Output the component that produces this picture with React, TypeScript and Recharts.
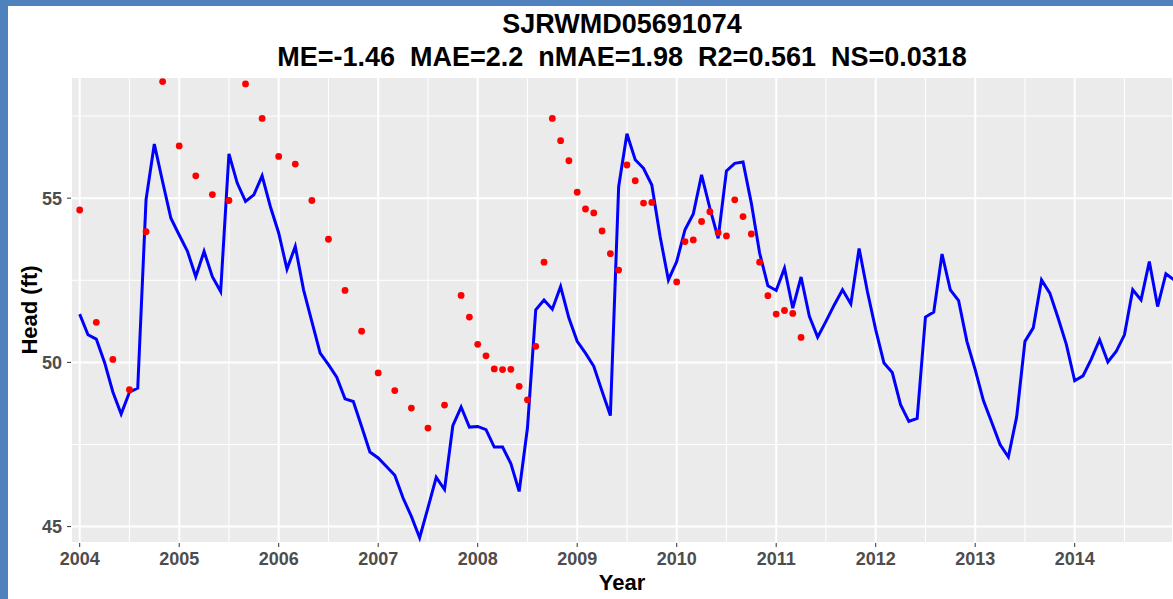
import { ComposedChart, Line, XAxis, YAxis, CartesianGrid, ReferenceLine } from 'recharts'

// simulated head, monthly from Jan 2004
const startYear = 2004
const simulated = [
  51.47, 50.84, 50.71, 50.0, 49.1, 48.43, 49.09, 49.22, 54.95, 56.65, 55.5, 54.39,
  53.88, 53.38, 52.61, 53.38, 52.61, 52.16, 56.35, 55.46, 54.9, 55.1, 55.68, 54.74,
  53.94, 52.84, 53.53, 52.21, 51.24, 50.28, 49.93, 49.55, 48.89, 48.81, 48.05, 47.27,
  47.09, 46.83, 46.56, 45.87, 45.31, 44.66, 45.57, 46.5, 46.13, 48.07, 48.64, 48.03,
  48.05, 47.95, 47.42, 47.42, 46.92, 46.07, 48.0, 51.6, 51.9, 51.62, 52.31, 51.35,
  50.64, 50.28, 49.88, 49.12, 48.38, 55.35, 56.96, 56.17, 55.91, 55.4, 53.83, 52.51,
  53.07, 54.04, 54.52, 55.71, 54.7, 53.78, 55.83, 56.06, 56.1, 54.85, 53.33, 52.33,
  52.19, 52.87, 51.65, 52.6, 51.4, 50.77, 51.25, 51.75, 52.21, 51.78, 53.47, 52.16,
  51.0, 49.98, 49.69, 48.71, 48.2, 48.29, 51.38, 51.53, 53.3, 52.21, 51.88, 50.64,
  49.78, 48.83, 48.17, 47.5, 47.12, 48.34, 50.64, 51.05, 52.51, 52.11, 51.35, 50.54,
  49.44, 49.59, 50.1, 50.69, 50.01, 50.33, 50.84, 52.21, 51.9, 53.07, 51.7, 52.7,
  52.51,
]

// observed head: month index (from Jan 2004) and value
const observedMonth = [
  0, 2, 4, 6, 8, 10, 12, 14, 16, 18, 20, 22, 24, 26, 28, 30, 32, 34, 36, 38, 40, 42, 44,
  46, 47, 48, 49, 50, 51, 52, 53, 54, 55, 56, 57, 58, 59, 60, 61, 62, 63, 64, 65, 66, 67,
  68, 69, 72, 73, 74, 75, 76, 77, 78, 79, 80, 81, 82, 83, 84, 85, 86, 87,
]
const observed = [
  54.64, 51.22, 50.09, 49.17, 53.98, 58.55, 56.59, 55.68, 55.11, 54.93, 58.48, 57.43, 56.27,
  56.04, 54.93, 53.75, 52.19, 50.95, 49.68, 49.14, 48.61, 48.0, 48.7,
  52.04, 51.38, 50.55, 50.2, 49.8, 49.78, 49.79, 49.27, 48.86, 50.49, 53.05, 57.43, 56.75,
  56.14, 55.18, 54.67, 54.55, 54.0, 53.31, 52.81, 56.01, 55.53,
  54.85, 54.87, 52.45, 53.68, 53.73, 54.29, 54.59, 53.95, 53.85, 54.95, 54.44, 53.91, 53.05,
  52.03, 51.47, 51.58, 51.49, 50.76,
]

const yearTicks = [2004, 2005, 2006, 2007, 2008, 2009, 2010, 2011, 2012, 2013, 2014]
const headTicks = [45, 50, 55]
const minorYears = yearTicks.map((y) => y + 0.5)
const minorHeads = [47.5, 52.5, 57.5]

const rows = simulated.map((sim, i) => {
  const k = observedMonth.indexOf(i)
  return { t: startYear + i / 12, sim, obs: k >= 0 ? observed[k] : null }
})

const font = "'Liberation Sans', Arial, sans-serif"
const tickStyle = { fill: '#4D4D4D', fontSize: 18, fontWeight: 700, fontFamily: font }

export default function App() {
  return (
    <div style={{ position: 'absolute', left: 0, top: 0, width: 1173, height: 599, background: '#fff', overflow: 'hidden', fontFamily: font }}>
      <div style={{ position: 'absolute', left: 0, top: 0, width: 1173, height: 6, background: '#4F81BD' }} />
      <div style={{ position: 'absolute', left: 0, top: 0, width: 8, height: 599, background: '#4F81BD' }} />
      <div style={{ position: 'absolute', left: 71, top: 8, width: 1102, textAlign: 'center', fontSize: 27, fontWeight: 700, lineHeight: '33px', color: '#000' }}>
        <div>SJRWMD05691074</div>
        <div style={{ whiteSpace: 'pre' }}>{'ME=-1.46  MAE=2.2  nMAE=1.98  R2=0.561  NS=0.0318'}</div>
      </div>
      <div style={{ position: 'absolute', left: 30, top: 310, transform: 'translate(-50%, -50%) rotate(-90deg)', fontSize: 22, fontWeight: 700, whiteSpace: 'nowrap', color: '#000' }}>
        Head (ft)
      </div>
      <div style={{ position: 'absolute', left: 8, top: 0 }}>
        <ComposedChart width={1165} height={599} data={rows} margin={{ top: 77, right: 0, bottom: 0, left: 0 }}>
          <CartesianGrid fill="#EBEBEB" stroke="#FFFFFF" strokeWidth={2} />
          {minorYears.map((x) => (
            <ReferenceLine key={'vx' + x} x={x} stroke="#FFFFFF" strokeWidth={1} />
          ))}
          {minorHeads.map((y) => (
            <ReferenceLine key={'hy' + y} y={y} stroke="#FFFFFF" strokeWidth={1} />
          ))}
          <XAxis
            dataKey="t"
            type="number"
            domain={[2003.9126, 2014.988]}
            ticks={yearTicks}
            allowDataOverflow
            axisLine={false}
            tickSize={4}
            tickMargin={5}
            tickLine={{ stroke: '#333333' }}
            tick={tickStyle}
            height={56}
            label={{ value: 'Year', position: 'insideBottom', offset: 9, fill: '#000', fontSize: 22, fontWeight: 700, fontFamily: font }}
          />
          <YAxis
            type="number"
            domain={[44.5, 58.69]}
            ticks={headTicks}
            allowDataOverflow
            axisLine={false}
            tickSize={4}
            tickMargin={5}
            tickLine={{ stroke: '#333333' }}
            tick={tickStyle}
            width={63}
          />
          <Line
            dataKey="obs"
            stroke="none"
            strokeWidth={0}
            dot={{ r: 3.4, fill: '#FF0000', stroke: 'none' }}
            isAnimationActive={false}
          />
          <Line
            dataKey="sim"
            type="linear"
            stroke="#0000FF"
            strokeWidth={3}
            dot={false}
            isAnimationActive={false}
          />
        </ComposedChart>
      </div>
    </div>
  )
}
